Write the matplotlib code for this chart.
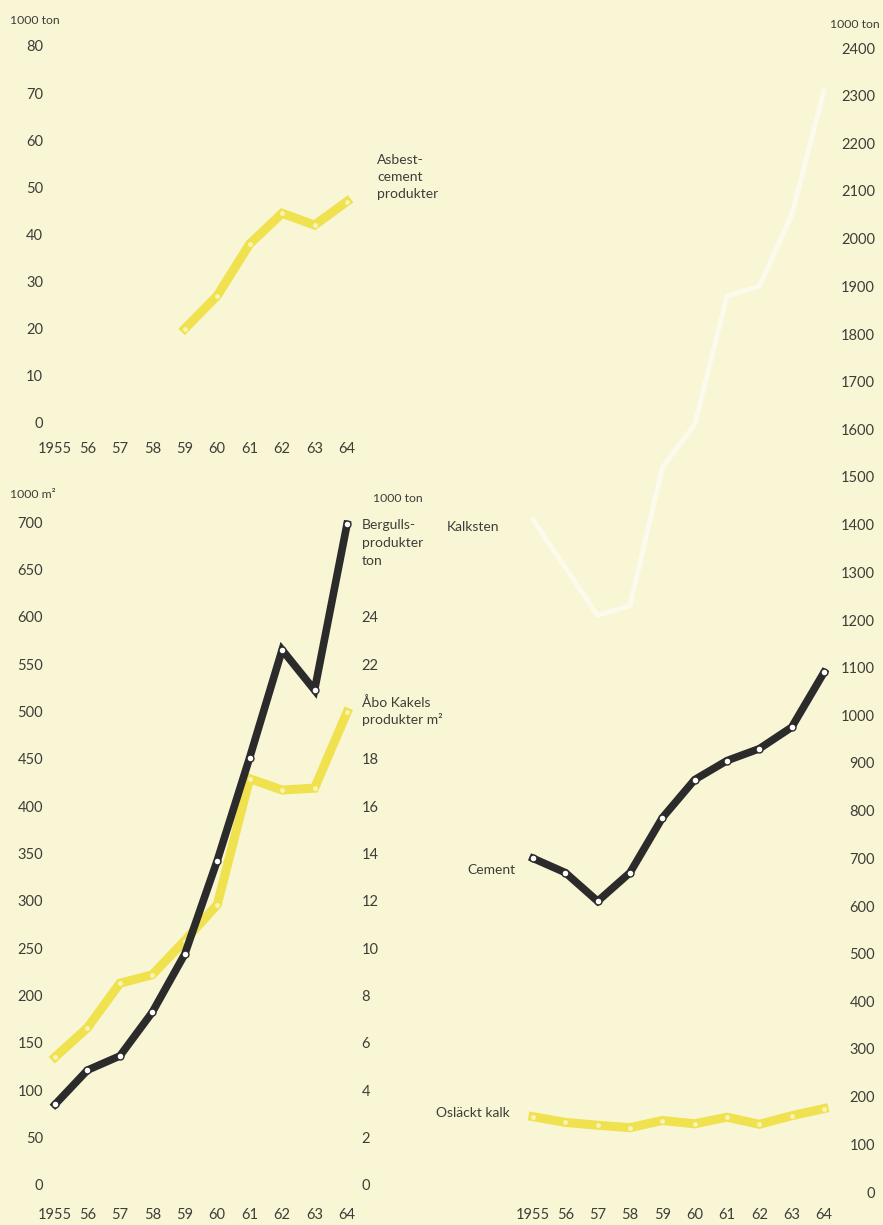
import matplotlib
matplotlib.use("Agg")
import matplotlib.pyplot as plt

# ---------------- data ----------------
years = [1955, 1956, 1957, 1958, 1959, 1960, 1961, 1962, 1963, 1964]
year_labels = ["1955", "56", "57", "58", "59", "60", "61", "62", "63", "64"]

asbest_years = [1959, 1960, 1961, 1962, 1963, 1964]
asbest = [20, 27, 38, 44.5, 42, 47]                 # 1000 ton

abo_kakel = [135, 166, 213, 222, 258, 296, 429, 417, 419, 499]   # 1000 m2
bergulls = [3.4, 4.85, 5.45, 7.3, 9.75, 13.7, 18.05, 22.6, 20.9, 27.9]  # 1000 ton

kalksten = [1410, 1310, 1210, 1230, 1520, 1610, 1880, 1900, 2050, 2310]
cement = [700, 670, 610, 670, 785, 865, 905, 930, 975, 1090]
oslackt_kalk = [158, 146, 140, 135, 150, 143, 157, 142, 160, 175]

asbest_ticks = [0, 10, 20, 30, 40, 50, 60, 70, 80]
m2_ticks = list(range(0, 701, 50))
ton_ticks = [0, 2, 4, 6, 8, 10, 12, 14, 16, 18, 22, 24]
right_ticks = list(range(0, 2401, 100))

# ---------------- style ----------------
W, H = 883, 1225
BG = "#f9f6d6"
YEL = "#efe24e"
BLK = "#2b2b2b"
WHT = "#ffffff"
TXT = "#3e3e38"
FONT = ["Lato", "DejaVu Sans"]
plt.rcParams["font.family"] = FONT
TICK_FS = 10.5
LBL_FS = 10
UNIT_FS = 8.8

fig = plt.figure(figsize=(W / 100, H / 100), dpi=100)
fig.patch.set_facecolor(BG)


def px_axes(x0, y_top, x1, y_bot):
    return fig.add_axes([x0 / W, 1 - y_bot / H, (x1 - x0) / W, (y_bot - y_top) / H])


def clean(ax):
    ax.set_facecolor("none")
    for s in ax.spines.values():
        s.set_visible(False)
    ax.tick_params(length=0, colors=TXT, labelsize=TICK_FS)


def ftext(x, y, s, **kw):
    kw.setdefault("color", TXT)
    kw.setdefault("fontsize", LBL_FS)
    kw.setdefault("va", "center")
    fig.text(x / W, 1 - y / H, s, **kw)


def yellow(ax, x, y):
    ax.plot(x, y, color=YEL, lw=6.5, solid_joinstyle="miter", clip_on=False, zorder=2)
    ax.plot(x, y, ls="none", marker="o", ms=3.5, mfc="#f8f3b8", mec="none",
            clip_on=False, zorder=3)


def black(ax, x, y):
    ax.plot(x, y, color=BLK, lw=5.5, solid_joinstyle="miter", clip_on=False, zorder=4,
            marker="o", ms=5, mfc="white", mec=BLK, mew=1.0)


# ---------- left column x mapping: 1955 -> 55px, 1964 -> 347px ----------
LX0, LX1 = 48, 360
lscale = (347 - 55) / 9
lxmin = 1955 - (55 - LX0) / lscale
lxmax = lxmin + (LX1 - LX0) / lscale

# ---------------- top-left: Asbest-cement ----------------
ax1 = px_axes(LX0, 46, LX1, 423)
clean(ax1)
ax1.set_xlim(lxmin, lxmax)
ax1.set_ylim(0, 80)
ax1.set_yticks(asbest_ticks)
ax1.set_xticks(years)
ax1.set_xticklabels(year_labels)
ax1.tick_params(axis="y", pad=3.5)
ax1.tick_params(axis="x", pad=14)
yellow(ax1, asbest_years, asbest)
ftext(10, 20, "1000 ton", fontsize=UNIT_FS)
ftext(377, 160, "Asbest-")
ftext(377, 177, "cement")
ftext(377, 194, "produkter")

# ---------------- bottom-left: Åbo Kakel + Bergulls ----------------
ax2 = px_axes(LX0, 522, LX1, 1185)
clean(ax2)
ax2.set_xlim(lxmin, lxmax)
ax2.set_ylim(0, 700)
ax2.set_yticks(m2_ticks)
ax2.set_xticks(years)
ax2.set_xticklabels(year_labels)
ax2.tick_params(axis="y", pad=3.5)
ax2.tick_params(axis="x", pad=16.5)
yellow(ax2, years, abo_kakel)

ax2b = ax2.twinx()
clean(ax2b)
ax2b.set_ylim(0, 28)
ax2b.set_yticks(ton_ticks)
ax2b.tick_params(axis="y", pad=1)
black(ax2b, years, bergulls)

ftext(10, 495, "1000 m²", fontsize=UNIT_FS)
ftext(373, 498, "1000 ton", fontsize=UNIT_FS)
ftext(362, 525, "Bergulls-")
ftext(362, 543, "produkter")
ftext(362, 561, "ton")
ftext(362, 703, "Åbo Kakels")
ftext(362, 720, "produkter m²")

# ---------------- right: Kalksten, Cement, Osläckt kalk ----------------
RX0, RX1 = 525, 835
rscale = (824 - 533) / 9
rxmin = 1955 - (533 - RX0) / rscale
rxmax = rxmin + (RX1 - RX0) / rscale

ax3 = px_axes(RX0, 48, RX1, 1192)
clean(ax3)
ax3.set_xlim(rxmin, rxmax)
ax3.set_ylim(0, 2400)
ax3.set_yticks(right_ticks)
ax3.yaxis.tick_right()
ax3.tick_params(axis="y", pad=(875 - RX1) / 1.389, labelright=True, labelleft=False)
for lbl in ax3.get_yticklabels():
    lbl.set_horizontalalignment("right")
ax3.set_xticks(years)
ax3.set_xticklabels(year_labels)
ax3.tick_params(axis="x", pad=11.5)

ax3.plot(years, kalksten, color=WHT, lw=3.5, alpha=0.55, clip_on=False, zorder=1)
yellow(ax3, years, oslackt_kalk)
black(ax3, years, cement)

ftext(880, 24, "1000 ton", fontsize=UNIT_FS, ha="right")
ftext(447, 527, "Kalksten")
ftext(515, 870, "Cement", ha="right")
ftext(510, 1113, "Osläckt kalk", ha="right")

fig.savefig("out.png", dpi=100, facecolor=BG)
